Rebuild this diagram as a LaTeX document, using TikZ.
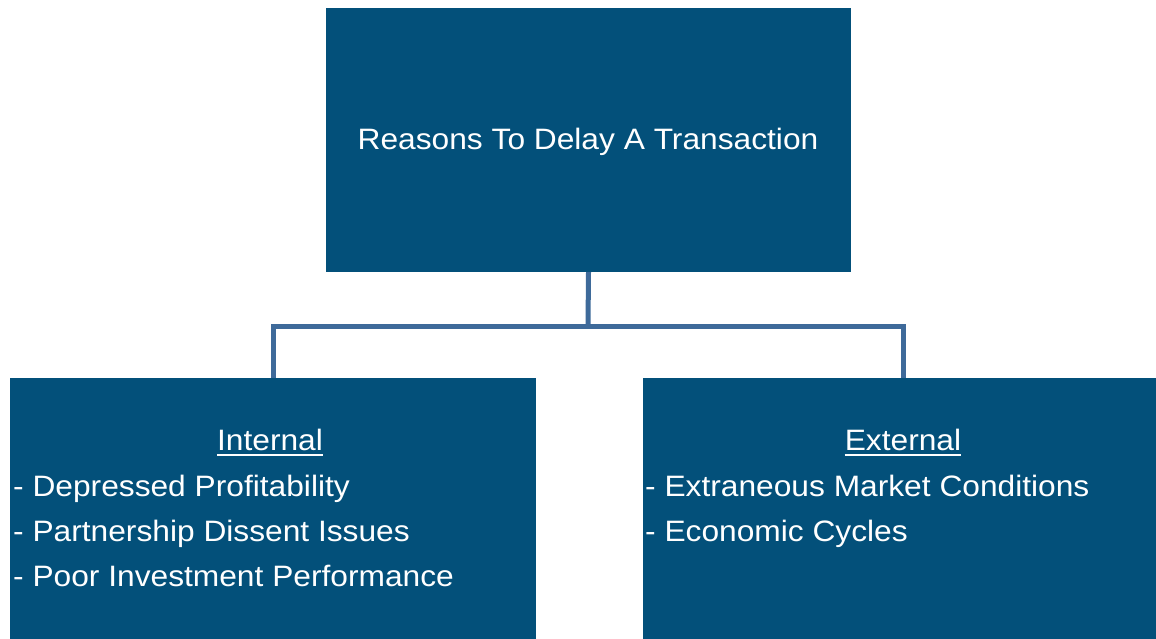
\documentclass[tikz,border=0pt]{standalone}
\usepackage{fontspec}
\setmainfont{Liberation Sans}[FakeStretch=1.075]
\begin{document}
\definecolor{boxblue}{HTML}{03507A}
\definecolor{linkblue}{HTML}{3E6A9A}
\begin{tikzpicture}[x=1pt,y=-1pt,
  block/.style={fill=boxblue,draw=none,inner sep=0pt},
  label/.style={text=white,inner sep=0pt,font=\fontsize{29.5}{35}\selectfont},
  link/.style={draw=linkblue,line width=5pt},
  uline/.style={draw=white,line width=2pt}]
  \useasboundingbox (0,0) rectangle (1156,639);
  % boxes
  \path[block] (326,8) rectangle (851,272);
  \node[inner sep=0pt,minimum width=525pt,minimum height=264pt] (top) at (588.5,140) {};
  \path[block] (10,378) rectangle (536,639);
  \node[inner sep=0pt,minimum width=526pt,minimum height=261pt] (left) at (273,508.5) {};
  \path[block] (643,378) rectangle (1156,639);
  \node[inner sep=0pt,minimum width=520pt,minimum height=261pt] (right) at (903,508.5) {};
  % connectors
  \coordinate (junction) at (588,326);
  \draw[link] (top.south) -- (junction);
  \draw[link] (left.north) |- (junction) -| (right.north);
  % title
  \node[label,anchor=base] (title) at (588,150) {Reasons To Delay A Transaction};
  % internal
  \node[label,anchor=base] (inthead) at (270,450) {Internal};
  \draw[uline] ([yshift=-5pt]inthead.base west) -- ([yshift=-5pt]inthead.base east);
  \node[label,anchor=base west] (i1) at (13,496) {- Depressed Profitability};
  \node[label,anchor=base west] (i2) at (13,541) {- Partnership Dissent Issues};
  \node[label,anchor=base west] (i3) at (13,586) {- Poor Investment Performance};
  % external
  \node[label,anchor=base] (exthead) at (903,450) {External};
  \draw[uline] ([yshift=-5pt]exthead.base west) -- ([yshift=-5pt]exthead.base east);
  \node[label,anchor=base west] (e1) at (645,496) {- Extraneous Market Conditions};
  \node[label,anchor=base west] (e2) at (645,541) {- Economic Cycles};
\end{tikzpicture}
\end{document}
